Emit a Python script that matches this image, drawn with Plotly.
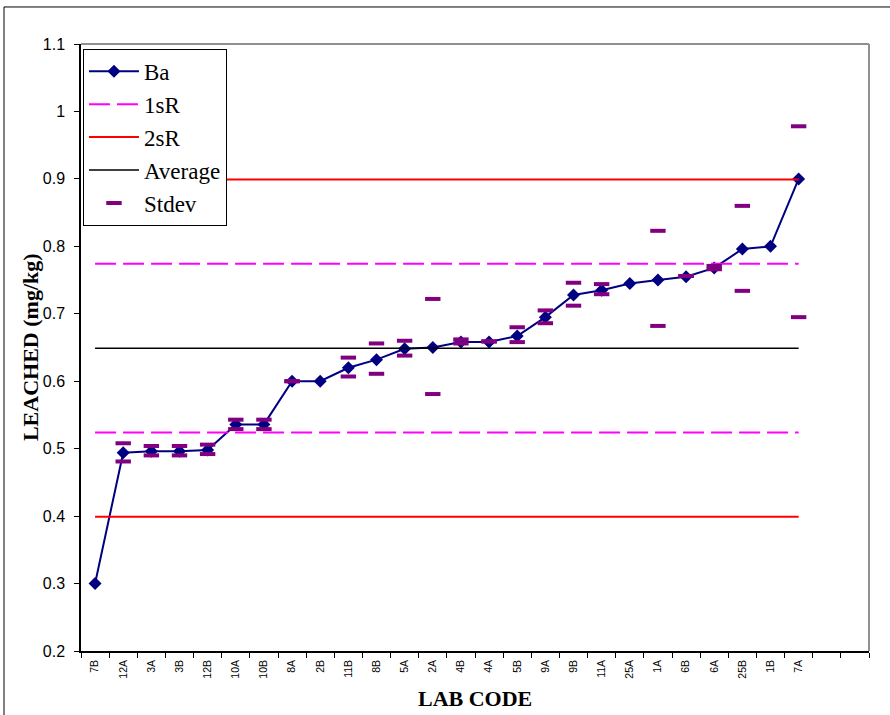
import plotly.graph_objects as go

labs = ["7B", "12A", "3A", "3B", "12B", "10A", "10B", "8A", "2B", "11B", "8B", "5A", "2A",
        "4B", "4A", "5B", "9A", "9B", "11A", "25A", "1A", "6B", "6A", "25B", "1B", "7A"]
ba = [0.300, 0.494, 0.496, 0.496, 0.498, 0.536, 0.536, 0.600, 0.600, 0.620, 0.632, 0.648, 0.650,
      0.658, 0.658, 0.667, 0.695, 0.728, 0.735, 0.745, 0.750, 0.755, 0.768, 0.796, 0.800, 0.900]
stdev_upper = [None, 0.508, 0.504, 0.504, 0.506, 0.543, 0.543, 0.600, None, 0.635, 0.656, 0.660, 0.722,
               0.662, 0.659, 0.680, 0.705, 0.746, 0.744, None, 0.823, 0.756, 0.771, 0.860, None, 0.978]
stdev_lower = [None, 0.481, 0.490, 0.490, 0.492, 0.529, 0.529, 0.600, None, 0.607, 0.611, 0.638, 0.581,
               0.656, 0.659, 0.658, 0.686, 0.712, 0.729, None, 0.682, 0.756, 0.766, 0.734, None, 0.695]
average = 0.649
sR = 0.125
n_slots = 28  # 26 labs + 2 empty categories
y_ticks = [0.2, 0.3, 0.4, 0.5, 0.6, 0.7, 0.8, 0.9, 1.0, 1.1]

idx = list(range(len(labs)))
x_ends = [idx[0], idx[-1]]

fig = go.Figure()
fig.add_trace(go.Scatter(
    x=idx, y=ba, name="Ba", mode="lines+markers", legendgroup="a",
    line=dict(color="#000080", width=2),
    marker=dict(symbol="diamond", size=10, color="#000080"),
))
fig.add_trace(go.Scatter(
    x=x_ends + [None] + x_ends,
    y=[average + sR] * 2 + [None] + [average - sR] * 2,
    name="1sR", mode="lines", legendgroup="b",
    line=dict(color="#FF00FF", width=2, dash="21px,7px"),
))
fig.add_trace(go.Scatter(
    x=x_ends + [None] + x_ends,
    y=[average + 2 * sR] * 2 + [None] + [average - 2 * sR] * 2,
    name="2sR", mode="lines", legendgroup="c",
    line=dict(color="#FF0000", width=2),
))
fig.add_trace(go.Scatter(
    x=x_ends, y=[average] * 2, name="Average", mode="lines", legendgroup="d",
    line=dict(color="#000000", width=1.5),
))
fig.add_trace(go.Scatter(
    x=idx + idx, y=stdev_upper + stdev_lower, name="Stdev", mode="markers", legendgroup="e",
    marker=dict(symbol="line-ew", size=11, line=dict(width=4, color="#800080")),
))

serif = "Liberation Serif, Times New Roman, serif"
sans = "Liberation Sans, Arial, sans-serif"

fig.update_layout(
    width=890, height=715,
    margin=dict(l=81, r=21, t=44, b=64),
    paper_bgcolor="white", plot_bgcolor="white",
    showlegend=True,
    legend=dict(
        x=0.0025, y=0.992, xanchor="left", yanchor="top",
        bgcolor="white", bordercolor="black", borderwidth=1,
        font=dict(family=serif, size=23, color="black"),
        itemwidth=50, tracegroupgap=0, traceorder="grouped",
    ),
    xaxis=dict(
        range=[-0.5, n_slots - 0.5], showgrid=False, zeroline=False,
        showline=True, linecolor="black", linewidth=1.5,
        tickmode="array", tickvals=idx, ticktext=labs, ticks="",
        tickangle=-90, tickfont=dict(family=sans, size=10.5, color="black"),
        ticklabelstandoff=3,
        minor=dict(tickmode="array", tickvals=[i - 0.5 for i in range(n_slots + 1)],
                   ticks="outside", ticklen=5, tickcolor="black", showgrid=False),
    ),
    yaxis=dict(
        range=[0.2, 1.1], showgrid=False, zeroline=False,
        showline=True, linecolor="black", linewidth=1.5,
        tickmode="array", tickvals=y_ticks, ticktext=[f"{v:g}" for v in y_ticks],
        ticks="outside", ticklen=5, tickcolor="black",
        tickfont=dict(family=sans, size=16, color="black"),
        ticklabelstandoff=6,
    ),
    shapes=[
        dict(type="line", xref="paper", yref="paper", x0=0, x1=1, y0=1, y1=1,
             line=dict(color="#909090", width=2)),
        dict(type="line", xref="paper", yref="paper", x0=1, x1=1, y0=0, y1=1,
             line=dict(color="#909090", width=2)),
        dict(type="rect", xref="paper", yref="paper", x0=-0.0977, x1=1.2, y0=-0.2, y1=1.061,
             line=dict(color="black", width=1)),
    ],
    annotations=[
        dict(text="<b>LAB CODE</b>", xref="paper", yref="paper", x=0.5, y=-0.078,
             xanchor="center", yanchor="middle", showarrow=False,
             font=dict(family=serif, size=22, color="black")),
        dict(text="<b>LEACHED (mg/kg)</b>", xref="paper", yref="paper", x=-0.064, y=0.5,
             xanchor="center", yanchor="middle", showarrow=False, textangle=-90,
             font=dict(family=serif, size=22, color="black")),
    ],
)

fig.write_html("out.html", config={"displayModeBar": False},
               post_script="document.body.style.margin='0';document.body.style.padding='0';")
